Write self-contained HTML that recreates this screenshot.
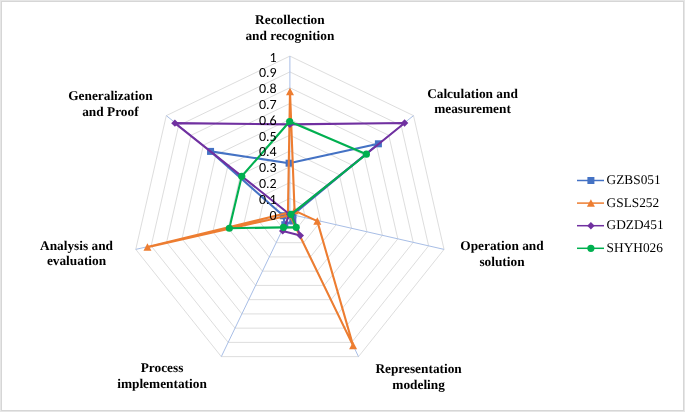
<!DOCTYPE html>
<html><head><meta charset="utf-8"><style>
html,body{margin:0;padding:0;background:#fff;}
body{width:685px;height:412px;overflow:hidden;position:relative;}
.frame{position:absolute;left:0;top:0;width:685px;height:412px;box-sizing:border-box;border:1px solid #e6e6e6;}
.frame2{position:absolute;left:1px;top:1px;width:683px;height:410px;box-sizing:border-box;border:1px solid #d6d6d6;}
svg{position:absolute;left:0;top:0;text-rendering:geometricPrecision;}
.tick{font-family:"Carlito","Liberation Sans",sans-serif;font-size:14px;fill:#000;}
.lab{font-family:"Liberation Serif",serif;font-weight:bold;font-size:13.33px;fill:#000;text-anchor:middle;}
.leg{font-family:"Liberation Serif",serif;font-size:13.33px;fill:#000;}
</style></head><body>
<div class="frame"></div><div class="frame2"></div>
<svg width="685" height="412" viewBox="0 0 685 412">
<g><polygon points="289.90,198.39 302.26,204.34 305.31,217.72 296.76,228.44 283.04,228.44 274.49,217.72 277.54,204.34" fill="none" stroke="#d9d9d9" stroke-width="0.9"/><polygon points="289.90,182.58 314.62,194.49 320.73,221.24 303.62,242.69 276.18,242.69 259.07,221.24 265.18,194.49" fill="none" stroke="#d9d9d9" stroke-width="0.9"/><polygon points="289.90,166.77 326.98,184.63 336.14,224.75 310.48,256.93 269.32,256.93 243.66,224.75 252.82,184.63" fill="none" stroke="#d9d9d9" stroke-width="0.9"/><polygon points="289.90,150.96 339.34,174.77 351.55,228.27 317.34,271.18 262.46,271.18 228.25,228.27 240.46,174.77" fill="none" stroke="#d9d9d9" stroke-width="0.9"/><polygon points="289.90,135.15 351.70,164.91 366.97,231.79 324.20,285.42 255.60,285.42 212.83,231.79 228.10,164.91" fill="none" stroke="#d9d9d9" stroke-width="0.9"/><polygon points="289.90,119.34 364.06,155.06 382.38,235.31 331.06,299.67 248.74,299.67 197.42,235.31 215.74,155.06" fill="none" stroke="#d9d9d9" stroke-width="0.9"/><polygon points="289.90,103.53 376.43,145.20 397.80,238.83 337.92,313.91 241.88,313.91 182.00,238.83 203.37,145.20" fill="none" stroke="#d9d9d9" stroke-width="0.9"/><polygon points="289.90,87.72 388.79,135.34 413.21,242.34 344.78,328.15 235.02,328.15 166.59,242.34 191.01,135.34" fill="none" stroke="#d9d9d9" stroke-width="0.9"/><polygon points="289.90,71.91 401.15,125.48 428.62,245.86 351.64,342.40 228.16,342.40 151.18,245.86 178.65,125.48" fill="none" stroke="#d9d9d9" stroke-width="0.9"/><polygon points="289.90,56.10 413.51,115.63 444.04,249.38 358.50,356.64 221.30,356.64 135.76,249.38 166.29,115.63" fill="none" stroke="#d9d9d9" stroke-width="0.9"/><line x1="289.9" y1="214.2" x2="289.90" y2="56.10" stroke="#a8bee6" stroke-width="1"/><line x1="289.9" y1="214.2" x2="413.51" y2="115.63" stroke="#a8bee6" stroke-width="1"/><line x1="289.9" y1="214.2" x2="444.04" y2="249.38" stroke="#a8bee6" stroke-width="1"/><line x1="289.9" y1="214.2" x2="358.50" y2="356.64" stroke="#a8bee6" stroke-width="1"/><line x1="289.9" y1="214.2" x2="221.30" y2="356.64" stroke="#a8bee6" stroke-width="1"/><line x1="289.9" y1="214.2" x2="135.76" y2="249.38" stroke="#a8bee6" stroke-width="1"/><line x1="289.9" y1="214.2" x2="166.29" y2="115.63" stroke="#a8bee6" stroke-width="1"/></g>
<g><polygon points="289.10,163.20 378.40,143.80 292.98,214.75 292.80,221.00 284.80,224.70 283.30,215.75 210.55,151.40" fill="none" stroke="#4472c4" stroke-width="2.1" stroke-linejoin="round"/><rect x="285.60" y="159.70" width="7.00" height="7.00" fill="#4472c4"/><rect x="374.90" y="140.30" width="7.00" height="7.00" fill="#4472c4"/><rect x="289.48" y="211.25" width="7.00" height="7.00" fill="#4472c4"/><rect x="289.30" y="217.50" width="7.00" height="7.00" fill="#4472c4"/><rect x="281.30" y="221.20" width="7.00" height="7.00" fill="#4472c4"/><rect x="279.80" y="212.25" width="7.00" height="7.00" fill="#4472c4"/><rect x="207.05" y="147.90" width="7.00" height="7.00" fill="#4472c4"/><polygon points="290.00,91.56 294.55,210.63 317.30,221.10 353.10,345.65 289.86,215.20 147.45,247.13 287.95,212.80" fill="none" stroke="#ed7d31" stroke-width="2.1" stroke-linejoin="round"/><polygon points="290.00,87.66 294.00,95.16 286.00,95.16" fill="#ed7d31"/><polygon points="294.55,206.73 298.55,214.23 290.55,214.23" fill="#ed7d31"/><polygon points="317.30,217.20 321.30,224.70 313.30,224.70" fill="#ed7d31"/><polygon points="353.10,341.75 357.10,349.25 349.10,349.25" fill="#ed7d31"/><polygon points="289.86,211.30 293.86,218.80 285.86,218.80" fill="#ed7d31"/><polygon points="147.45,243.23 151.45,250.73 143.45,250.73" fill="#ed7d31"/><polygon points="287.95,208.90 291.95,216.40 283.95,216.40" fill="#ed7d31"/><polygon points="289.90,124.40 404.60,123.00 291.50,214.50 300.30,235.60 282.70,230.90 289.50,214.20 174.90,123.15" fill="none" stroke="#7030a0" stroke-width="2.1" stroke-linejoin="round"/><polygon points="289.90,120.70 293.60,124.40 289.90,128.10 286.20,124.40" fill="#7030a0"/><polygon points="404.60,119.30 408.30,123.00 404.60,126.70 400.90,123.00" fill="#7030a0"/><polygon points="291.50,210.80 295.20,214.50 291.50,218.20 287.80,214.50" fill="#7030a0"/><polygon points="300.30,231.90 304.00,235.60 300.30,239.30 296.60,235.60" fill="#7030a0"/><polygon points="282.70,227.20 286.40,230.90 282.70,234.60 279.00,230.90" fill="#7030a0"/><polygon points="289.50,210.50 293.20,214.20 289.50,217.90 285.80,214.20" fill="#7030a0"/><polygon points="174.90,119.45 178.60,123.15 174.90,126.85 171.20,123.15" fill="#7030a0"/><polygon points="289.65,121.50 366.40,154.20 291.00,214.35 296.20,227.35 283.50,227.35 229.35,228.25 241.76,176.30" fill="none" stroke="#00b050" stroke-width="2.1" stroke-linejoin="round"/><circle cx="289.65" cy="121.50" r="3.6" fill="#00b050"/><circle cx="366.40" cy="154.20" r="3.6" fill="#00b050"/><circle cx="291.00" cy="214.35" r="3.6" fill="#00b050"/><circle cx="296.20" cy="227.35" r="3.6" fill="#00b050"/><circle cx="283.50" cy="227.35" r="3.6" fill="#00b050"/><circle cx="229.35" cy="228.25" r="3.6" fill="#00b050"/><circle cx="241.76" cy="176.30" r="3.6" fill="#00b050"/></g>
<g class="tick"><text x="276.7" y="219.70" text-anchor="end">0</text><text x="276.7" y="203.89" text-anchor="end">0.1</text><text x="276.7" y="188.08" text-anchor="end">0.2</text><text x="276.7" y="172.27" text-anchor="end">0.3</text><text x="276.7" y="156.46" text-anchor="end">0.4</text><text x="276.7" y="140.65" text-anchor="end">0.5</text><text x="276.7" y="124.84" text-anchor="end">0.6</text><text x="276.7" y="109.03" text-anchor="end">0.7</text><text x="276.7" y="93.22" text-anchor="end">0.8</text><text x="276.7" y="77.41" text-anchor="end">0.9</text><text x="276.7" y="61.60" text-anchor="end">1</text></g>
<g class="lab"><text x="289.9" y="24.20">Recollection</text><text x="289.9" y="39.50">and recognition</text><text x="472.5" y="97.50">Calculation and</text><text x="472.5" y="113.40">measurement</text><text x="502.0" y="249.70">Operation and</text><text x="502.0" y="265.60">solution</text><text x="418.6" y="373.25">Representation</text><text x="418.6" y="388.55">modeling</text><text x="162.0" y="371.86">Process</text><text x="162.0" y="387.76">implementation</text><text x="76.5" y="249.70">Analysis and</text><text x="76.5" y="265.30">evaluation</text><text x="110.4" y="100.07">Generalization</text><text x="110.4" y="115.97">and Proof</text></g>
<g class="leg"><line x1="577" y1="180.5" x2="604" y2="180.5" stroke="#4472c4" stroke-width="1.5"/><rect x="587.40" y="177.00" width="7.00" height="7.00" fill="#4472c4"/><text x="606.6" y="184.20">GZBS051</text><line x1="577" y1="203.1" x2="604" y2="203.1" stroke="#ed7d31" stroke-width="1.5"/><polygon points="590.90,199.20 594.90,206.70 586.90,206.70" fill="#ed7d31"/><text x="606.6" y="206.80">GSLS252</text><line x1="577" y1="225.7" x2="604" y2="225.7" stroke="#7030a0" stroke-width="1.5"/><polygon points="590.90,222.00 594.60,225.70 590.90,229.40 587.20,225.70" fill="#7030a0"/><text x="606.6" y="229.40">GDZD451</text><line x1="577" y1="248.3" x2="604" y2="248.3" stroke="#00b050" stroke-width="1.5"/><circle cx="590.90" cy="248.30" r="3.6" fill="#00b050"/><text x="606.6" y="252.00">SHYH026</text></g>
</svg>
</body></html>
